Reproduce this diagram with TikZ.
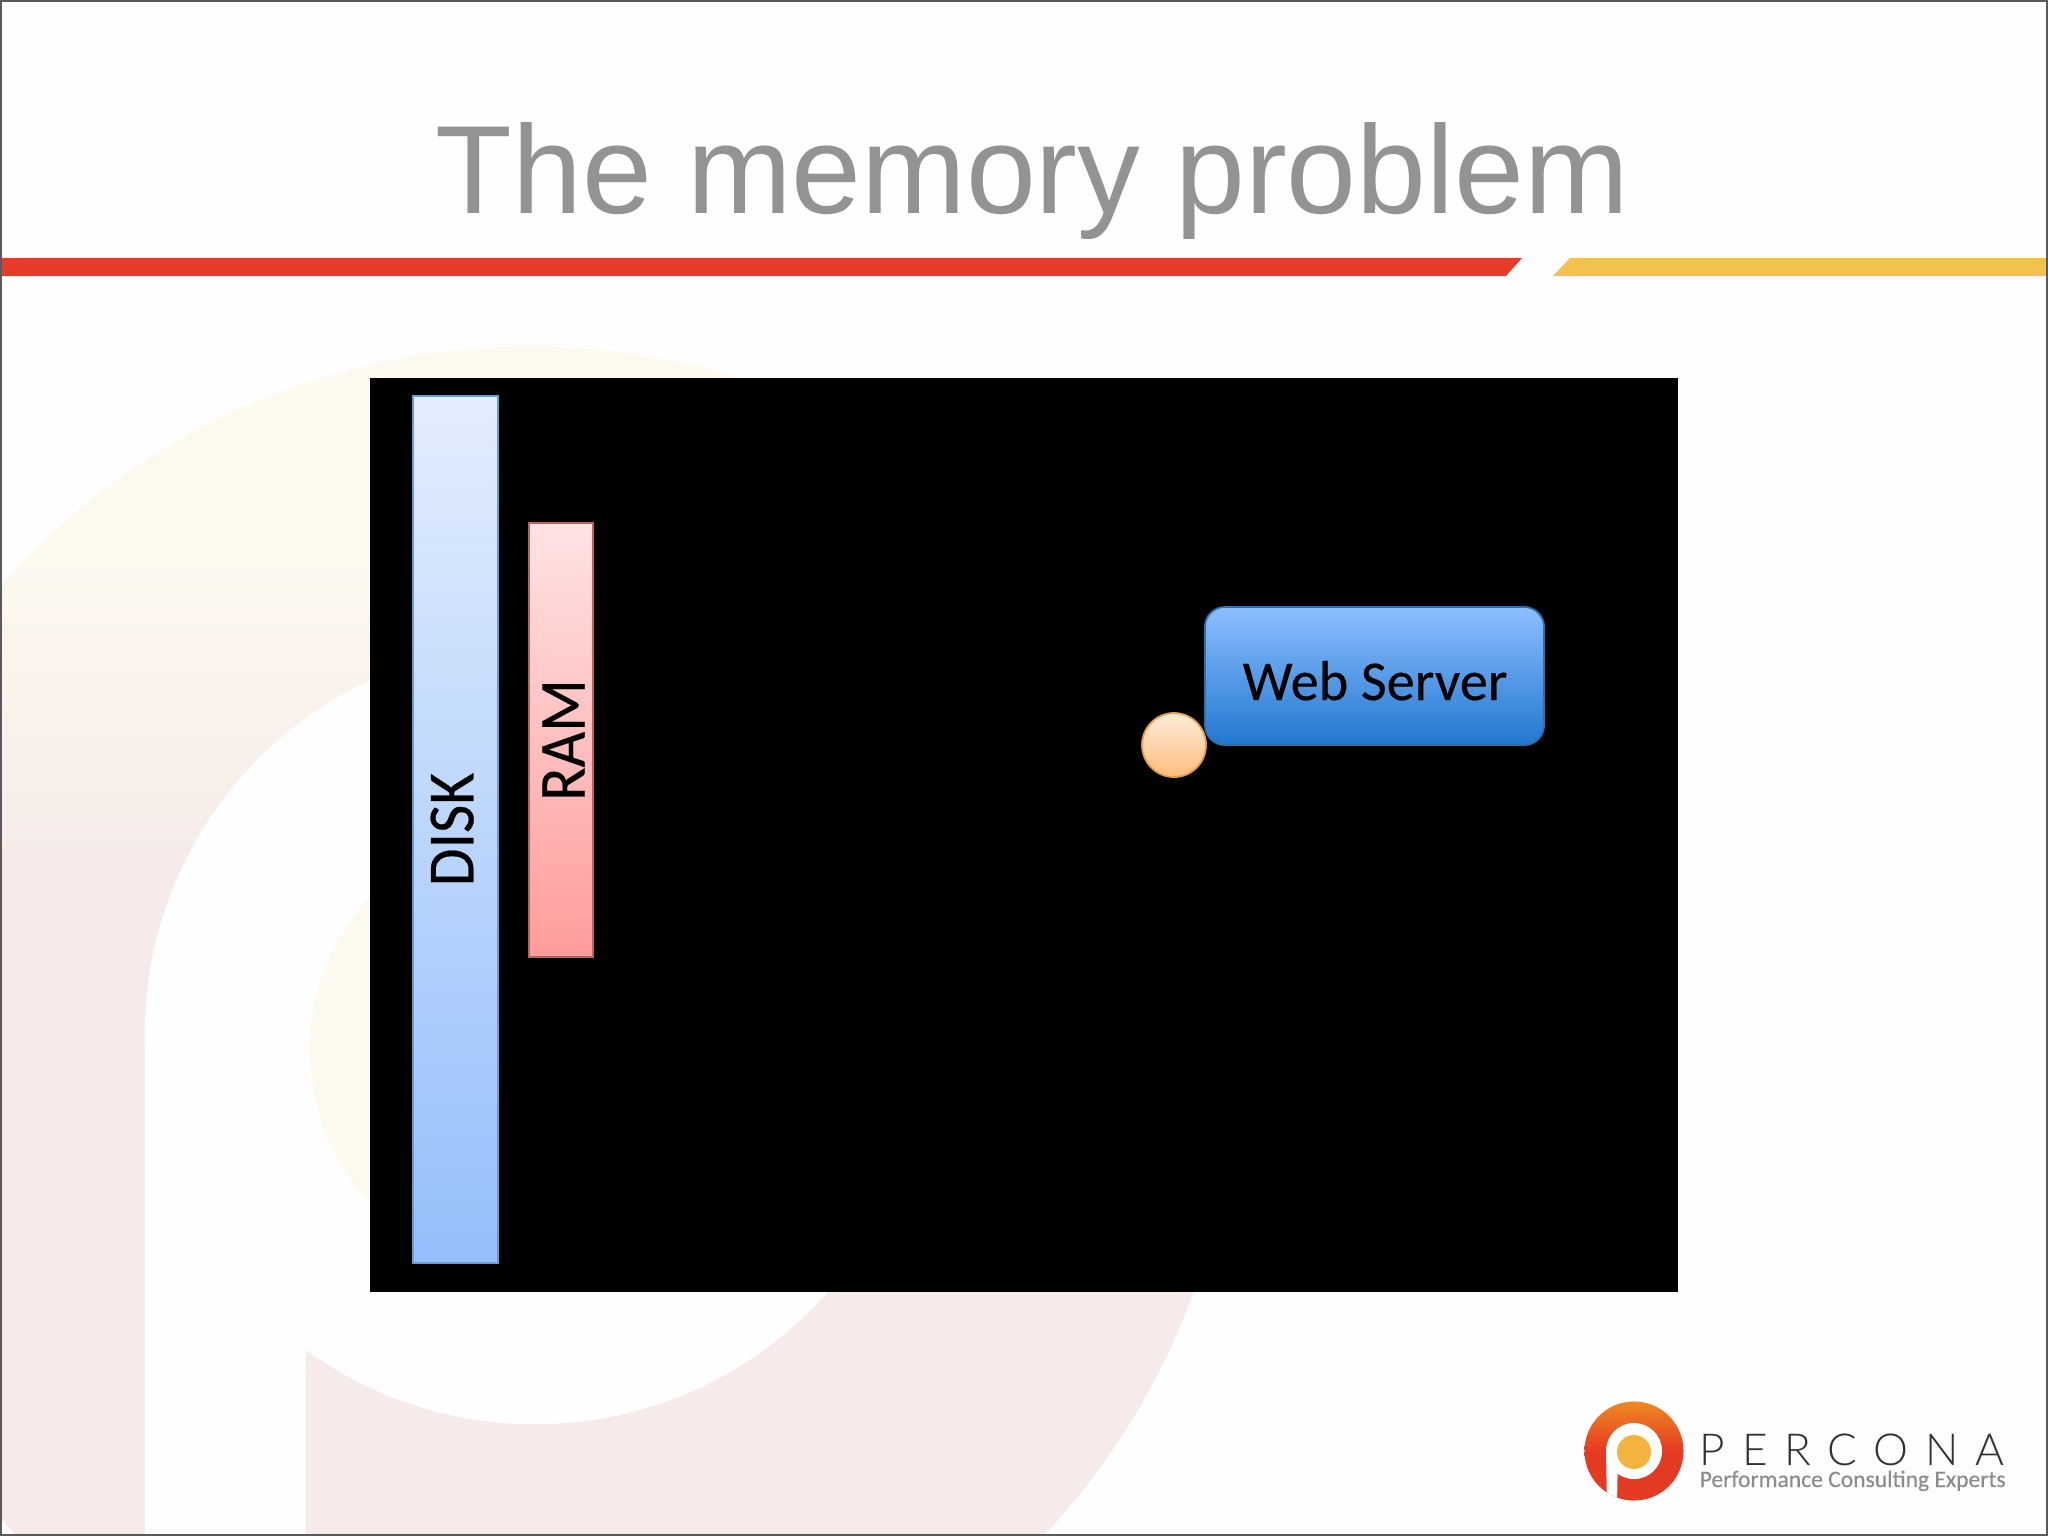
\documentclass[tikz,border=0pt]{standalone}
\usepackage{fontspec}
\setmainfont{Liberation Sans}
\newfontfamily\calib[FakeBold=0.3]{Carlito}
\newfontfamily\calibtag[FakeBold=0.25]{Carlito}
\newfontfamily\percfont[LetterSpace=38]{Lato Light}
\usetikzlibrary{shadings}
\definecolor{pagebg}{HTML}{FEFEFE}
\definecolor{frameline}{HTML}{5A5A5A}
\definecolor{titlegray}{HTML}{939393}
\definecolor{barred}{HTML}{E63B26}
\definecolor{baryellow}{HTML}{F2C14E}
\definecolor{wmyellow}{HTML}{FDF9EF}
\definecolor{wmpink}{HTML}{F6EBE8}
\definecolor{diskline}{HTML}{6C9AD2}
\definecolor{ramline}{HTML}{C0605C}
\definecolor{srvline}{HTML}{2F6FB0}
\definecolor{ballline}{HTML}{E89A48}
\definecolor{logosub}{HTML}{8C8C8C}
\definecolor{logoword}{HTML}{333333}
\pgfdeclareverticalshading{wmring}{100bp}{
  color(0bp)=(wmpink); color(57bp)=(wmpink); color(67.5bp)=(wmyellow); color(100bp)=(wmyellow)}
\tikzset{
  barbox/.style={rectangle,inner sep=0pt,line width=0.55pt,text=black,font=\calib\fontsize{17.5pt}{20pt}\selectfont},
  diskbar/.style={barbox,draw=diskline,top color=DiskTop,bottom color=DiskBot,minimum width=0.85cm,minimum height=8.67cm},
  rambar/.style={barbox,draw=ramline,top color=RamTop,bottom color=RamBot,minimum width=0.64cm,minimum height=4.34cm},
  srvbox/.style={rectangle,rounded corners=0.2cm,inner sep=0pt,line width=0.5pt,draw=srvline,top color=SrvTop,bottom color=SrvBot,minimum width=3.39cm,minimum height=1.38cm},
  srvtext/.style={inner sep=0pt,anchor=base,text=black,font=\calib\fontsize{16pt}{20pt}\selectfont},
  ball/.style={circle,inner sep=0pt,minimum size=0.64cm,line width=0.5pt,draw=ballline,top color=BallTop,bottom color=BallBot},
  title/.style={inner sep=0pt,anchor=base,text=titlegray,font=\fontsize{35.7pt}{40pt}\selectfont}
}
\definecolor{DiskTop}{HTML}{E3EDFD}
\definecolor{DiskBot}{HTML}{94BFFB}
\definecolor{RamTop}{HTML}{FFE3E3}
\definecolor{RamBot}{HTML}{FF9C9C}
\definecolor{SrvTop}{HTML}{8DBFFF}
\definecolor{SrvBot}{HTML}{2277D0}
\definecolor{BallTop}{HTML}{FFEBD8}
\definecolor{BallBot}{HTML}{FFBD7C}
\definecolor{LogoTop}{HTML}{EE8A22}
\definecolor{LogoBot}{HTML}{E53A22}
\definecolor{LogoDot}{HTML}{F2B33F}
\begin{document}
\begin{tikzpicture}[x=0.01cm,y=-0.01cm]
\useasboundingbox (0,0) rectangle (2048,1536);
\fill[pagebg] (0,0) rectangle (2048,1536);
% watermark
\begin{scope}
\clip (0,0) rectangle (2048,1536);
\shade[shading=wmring] (530,1052) circle [radius=7.05cm];
\fill[pagebg] (535,1034) circle [radius=3.9cm];
\fill[pagebg] (145,1034) rectangle (306,1536);
\fill[wmyellow] (535,1050) circle [radius=2.25cm];
\end{scope}
% header bars
\fill[barred] (0,258) -- (1522,258) -- (1506,276) -- (0,276) -- cycle;
\fill[baryellow] (1570,258) -- (2048,258) -- (2048,276) -- (1553,276) -- cycle;
\node[title] (ttl) at (1032.5,213) {The memory problem};
% black panel
\fill[black] (370,378) rectangle (1678,1292);
\node[diskbar] (disk) at (455.5,829.5) {\rotatebox{90}{\scalebox{1}[1.07]{DISK}}\hspace*{1.9pt}};
\node[rambar] (ram) at (561,740) {\hspace*{1.4pt}\rotatebox{90}{\scalebox{1}[1.07]{RAM}}};
\node[srvbox] (srv) at (1374.5,676) {};
\node[srvtext] (srvlabel) at (1375,700) {Web Server};
\node[ball] (dot) at (1174,745) {};
% logo
\begin{scope}
\clip (1634,1451) circle [radius=0.495cm];
\shade[top color=LogoTop,bottom color=LogoBot,middle color=LogoBot] (1584,1401) rectangle (1684,1501);
\fill[white] (1634,1451) circle [radius=0.28cm];
\fill[white] (1606,1451) -- (1618,1451) -- (1617,1505) -- (1607,1505) -- cycle;
\end{scope}
\fill[LogoDot] (1634,1452) circle [radius=0.17cm];
\node[inner sep=0pt,anchor=base west,text=logoword,font=\percfont\fontsize{12.55pt}{14pt}\selectfont] (word) at (1699,1465) {PERCONA};
\node[inner sep=0pt,anchor=base west,text=logosub,font=\calibtag\fontsize{6.7pt}{8pt}\selectfont] (tag) at (1699,1487) {Performance Consulting Experts};
% page frame
\draw[frameline,line width=0.7pt] (0.5,0.5) rectangle (2047.5,1535.5);
\end{tikzpicture}
\end{document}
